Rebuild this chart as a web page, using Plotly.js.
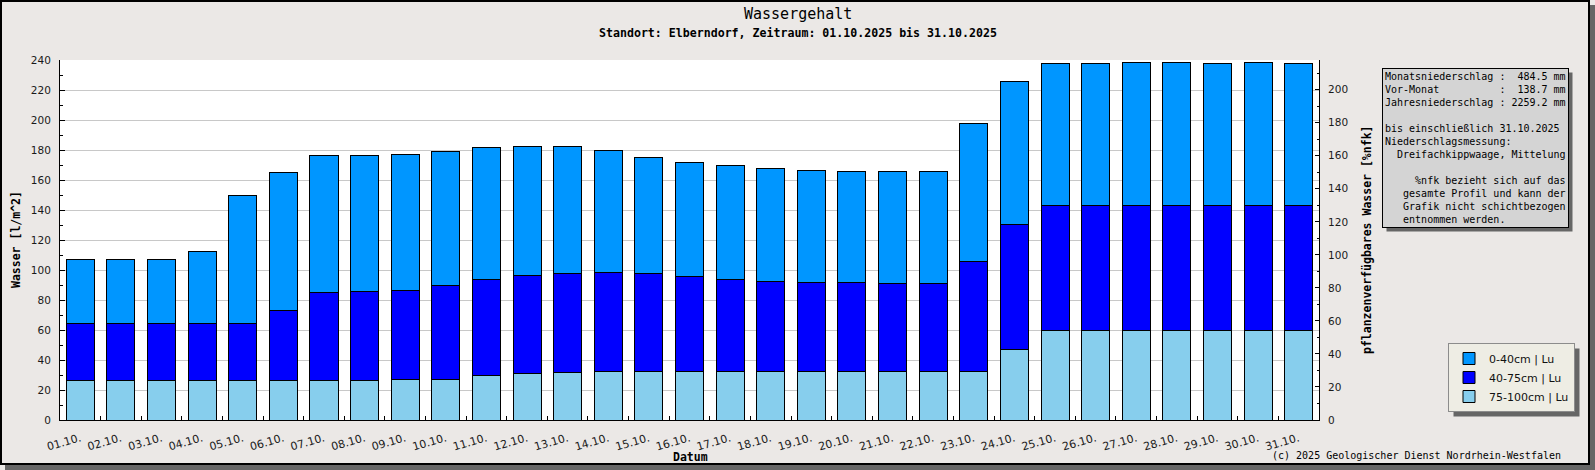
<!DOCTYPE html>
<html>
<head>
<meta charset="utf-8">
<script src="https://cdn.plot.ly/plotly-3.0.1.min.js"></script>
<style>
  html, body { margin: 0; padding: 0; background: #ebe8e6; }
</style>
</head>
<body>
<div id="wasserChart" style="width:1595px;height:470px"></div>
<script>
// Tage im Oktober 2025
var days = ["01.10.", "02.10.", "03.10.", "04.10.", "05.10.", "06.10.", "07.10.", "08.10.",
  "09.10.", "10.10.", "11.10.", "12.10.", "13.10.", "14.10.", "15.10.", "16.10.", "17.10.",
  "18.10.", "19.10.", "20.10.", "21.10.", "22.10.", "23.10.", "24.10.", "25.10.", "26.10.",
  "27.10.", "28.10.", "29.10.", "30.10.", "31.10."];

// Wasser [l/m^2] je Schicht
var layer75to100 = [26.2, 26.2, 26.2, 26.2, 26.2, 26.2, 26.2, 26.2, 27.1, 27.1, 29.8, 30.9,
  31.6, 32.2, 32.2, 32.2, 32.2, 32.2, 32.2, 32.2, 32.2, 32.2, 32.2, 46.9, 59.6, 59.6, 59.6,
  59.6, 59.6, 59.6, 59.6];
var layer40to75 = [38.2, 38.2, 38.2, 38.2, 38.2, 46.9, 58.9, 59.6, 59.3, 62.7, 64.0, 65.5,
  66.2, 66.0, 65.6, 63.6, 61.6, 60.0, 59.4, 59.4, 58.9, 58.9, 73.5, 83.5, 83.5, 83.5, 83.5,
  83.5, 83.5, 83.5, 83.5];
var layer0to40 = [42.5, 42.5, 42.5, 47.8, 85.2, 92.0, 91.1, 90.4, 90.7, 89.1, 87.8, 85.8,
  84.4, 81.4, 77.1, 75.8, 75.8, 75.4, 74.6, 74.0, 74.5, 74.5, 92.0, 95.2, 94.5, 94.5, 95.1,
  95.1, 94.5, 95.1, 94.5];

var infoLines = [
  "Monatsniederschlag :  484.5 mm",
  "Vor-Monat          :  138.7 mm",
  "Jahresniederschlag : 2259.2 mm",
  "",
  "bis einschließlich 31.10.2025",
  "Niederschlagsmessung:",
  "  Dreifachkippwaage, Mittelung",
  "",
  "     %nfk bezieht sich auf das",
  "   gesamte Profil und kann der",
  "   Grafik nicht schichtbezogen",
  "   entnommen werden."
];

// plot area in pixels
var L = 60, R = 1319, T = 60, B = 420;
function px(x) { return (x - L) / (R - L); }
function py(y) { return (B - y) / (B - T); }

var mono = "DejaVu Sans Mono, monospace";
var sans = "DejaVu Sans, sans-serif";
var tickFont = { family: sans, size: 10.5, color: "#1a1a1a" };
var shadow = "#666666";

function barTrace(name, values, color) {
  return {
    type: "bar",
    name: name,
    x: days,
    y: values,
    marker: { color: color, line: { color: "#000", width: 1 } },
    hoverinfo: "skip"
  };
}

var data = [
  barTrace("75-100cm | Lu", layer75to100, "#87ceed"),
  barTrace("40-75cm | Lu", layer40to75, "#0000ff"),
  barTrace("0-40cm | Lu", layer0to40, "#0096ff"),
  { type: "scatter", x: [], y: [], yaxis: "y2", showlegend: false, hoverinfo: "skip" }
];

var infoText = infoLines.map(function (s) {
  return s === "" ? "\u00a0" : s.replace(/ /g, "\u00a0");
}).join("<br>");

function label(x, y, text, size, extra) {
  var a = {
    xref: "paper", yref: "paper", x: px(x), y: py(y),
    xanchor: "center", yanchor: "middle", showarrow: false,
    text: text, font: { family: mono, size: size, color: "#000" }
  };
  for (var k in extra) a[k] = extra[k];
  return a;
}

var shapes = [
  { type: "rect", xref: "paper", yref: "paper", layer: "below",
    x0: px(5), x1: px(1595), y0: py(465), y1: py(470),
    fillcolor: shadow, line: { width: 0 } },
  { type: "rect", xref: "paper", yref: "paper", layer: "below",
    x0: px(1590), x1: px(1595), y0: py(5), y1: py(470),
    fillcolor: shadow, line: { width: 0 } },
  { type: "rect", xref: "paper", yref: "paper", layer: "below",
    x0: px(1), x1: px(1589), y0: py(1), y1: py(464),
    fillcolor: "rgba(0,0,0,0)", line: { color: "#000", width: 2 } }
];

var layout = {
  width: 1595,
  height: 470,
  margin: { l: L, r: 1595 - R, t: T, b: 470 - B, pad: 0 },
  paper_bgcolor: "#ebe8e6",
  plot_bgcolor: "#ffffff",
  barmode: "stack",
  bargap: 0.31,
  showlegend: true,
  legend: {
    x: px(1448), y: py(343),
    xanchor: "left", yanchor: "top",
    traceorder: "reversed",
    bgcolor: "#eeede4",
    bordercolor: "#8c8c8c",
    borderwidth: 1,
    itemwidth: 30,
    font: { family: sans, size: 11, color: "#111" }
  },
  xaxis: {
    type: "category",
    range: [-0.5, 30.5],
    tickson: "boundaries",
    ticks: "inside",
    ticklen: 4,
    tickcolor: "#000",
    tickangle: -16,
    ticklabelstandoff: 7,
    showline: true,
    linecolor: "#000",
    linewidth: 1,
    showgrid: false,
    tickfont: { family: sans, size: 11, color: "#1a1a1a" }
  },
  yaxis: {
    range: [0, 240],
    tick0: 0,
    dtick: 20,
    ticks: "inside",
    ticklen: 5,
    tickcolor: "#000",
    showline: true,
    linecolor: "#000",
    gridcolor: "#c8c8c8",
    zeroline: false,
    ticklabelstandoff: 6,
    minor: { dtick: 10, ticks: "inside", ticklen: 3, tickcolor: "#000", showgrid: false },
    tickfont: tickFont
  },
  yaxis2: {
    overlaying: "y",
    side: "right",
    range: [0, 218],
    tick0: 0,
    dtick: 20,
    ticks: "inside",
    ticklen: 4,
    tickcolor: "#000",
    showline: true,
    linecolor: "#000",
    showgrid: false,
    zeroline: false,
    ticklabelstandoff: 6,
    minor: { dtick: 10, ticks: "inside", ticklen: 2, tickcolor: "#000", showgrid: false },
    tickfont: tickFont
  },
  shapes: shapes,
  annotations: [
    label(798, 14, "Wassergehalt", 15),
    label(798, 33, "<b>Standort: Elberndorf, Zeitraum: 01.10.2025 bis 31.10.2025</b>", 11.6),
    label(690, 457, "<b>Datum</b>", 11.5),
    label(16, 240, "<b>Wasser [l/m^2]</b>", 11.5, { textangle: -90 }),
    label(1367, 240, "<b>pflanzenverfügbares Wasser [%nfk]</b>", 11.5, { textangle: -90 }),
    label(1563, 455, "(c) 2025 Geologischer Dienst Nordrhein-Westfalen", 10, { xanchor: "right" }),
    {
      xref: "paper", yref: "paper",
      x: px(1382), y: py(68),
      xanchor: "left", yanchor: "top",
      align: "left",
      showarrow: false,
      text: infoText,
      font: { family: mono, size: 10, color: "#000" },
      bgcolor: "#d4d4d4",
      bordercolor: "#000",
      borderwidth: 1,
      borderpad: 2
    }
  ]
};

function shadowFor(el, gd, off) {
  var r = el.getBoundingClientRect();
  var g = gd.getBoundingClientRect();
  return {
    type: "rect", xref: "paper", yref: "paper", layer: "below",
    x0: px(r.left - g.left + off), x1: px(r.right - g.left + off),
    y0: py(r.top - g.top + off), y1: py(r.bottom - g.top + off),
    fillcolor: shadow, line: { width: 0 }
  };
}

Plotly.newPlot("wasserChart", data, layout, { displayModeBar: false, staticPlot: true })
  .then(function (gd) {
    // shadows behind legend and info box, once their sizes are known
    var extra = [];
    var legendBg = gd.querySelector(".legend .bg");
    if (legendBg) extra.push(shadowFor(legendBg, gd, 5));
    var notes = gd.querySelectorAll(".annotation");
    var infoBg = notes.length ? notes[notes.length - 1].querySelector(".bg") : null;
    if (infoBg) extra.push(shadowFor(infoBg, gd, 4));
    return Plotly.relayout(gd, { shapes: shapes.concat(extra) });
  });
</script>
</body>
</html>
